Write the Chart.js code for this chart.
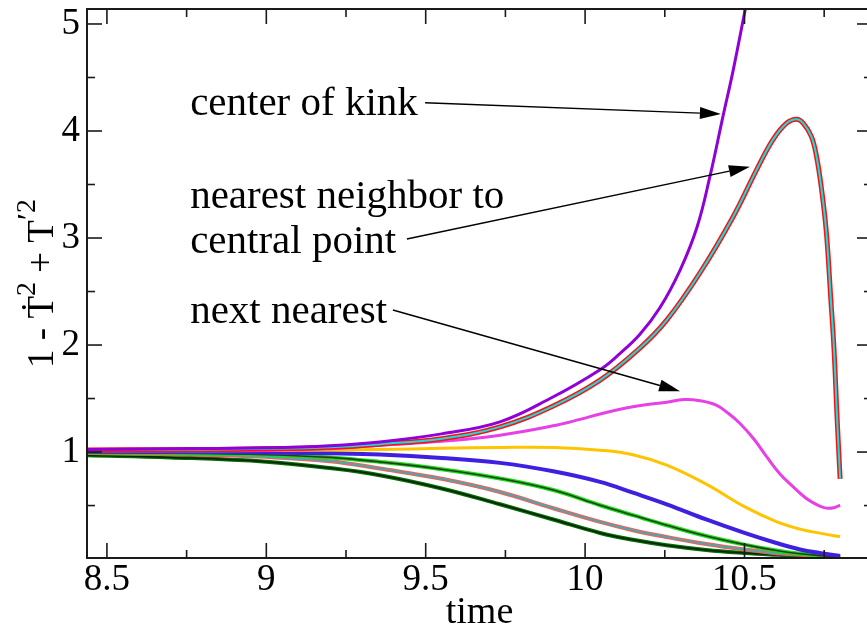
<!DOCTYPE html>
<html><head><meta charset="utf-8">
<script src="https://cdn.jsdelivr.net/npm/chart.js@4.4.0/dist/chart.umd.min.js"></script>
<style>
html,body{margin:0;padding:0;overflow:hidden;background:#fff;width:867px;height:628px}
#wrap{position:absolute;left:0;top:0;width:880px;height:640px}
</style></head><body><div id="wrap"><canvas id="c" width="880" height="640"></canvas></div>
<script>
// ---- axis ranges and ticks ----
const xRange = [8.4375, 10.9];
const yRange = [0.01, 5.14];
const majorXTicks = [8.5, 9, 9.5, 10, 10.5];
const minorXTicks = [8.75, 9.25, 9.75, 10.25, 10.75];
const majorYTicks = [1, 2, 3, 4, 5];
const minorYTicks = [0.5, 1.5, 2.5, 3.5, 4.5];

// ---- center of kink ----
const centerTime  = [8.44, 8.7, 9.0, 9.2, 9.356, 9.55, 9.733, 9.89, 10.047, 10.109, 10.172, 10.235, 10.298, 10.351, 10.392, 10.432, 10.464, 10.5, 10.53];
const centerValue = [1.025, 1.03, 1.04, 1.06, 1.095, 1.17, 1.282, 1.50, 1.77, 1.92, 2.10, 2.35, 2.70, 3.10, 3.58, 4.13, 4.56, 5.10, 5.55];

// ---- nearest neighbour (pair) ----
const nearTime  = [8.44, 8.7, 9.0, 9.2, 9.356, 9.55, 9.733, 9.9, 10.047, 10.172, 10.256, 10.36, 10.464, 10.538, 10.589, 10.632, 10.664, 10.684, 10.71, 10.726, 10.742, 10.757, 10.771, 10.781, 10.79, 10.8];
const nearValue = [1.02, 1.022, 1.03, 1.045, 1.074, 1.125, 1.235, 1.43, 1.672, 1.972, 2.233, 2.673, 3.197, 3.637, 3.917, 4.073, 4.11, 4.073, 3.948, 3.761, 3.45, 3.047, 2.42, 1.953, 1.35, 0.75];

// ---- next nearest ----
const nextTime  = [8.44, 8.7, 9.0, 9.2, 9.356, 9.55, 9.733, 9.9, 9.984, 10.047, 10.15, 10.256, 10.31, 10.36, 10.41, 10.45, 10.486, 10.53, 10.57, 10.61, 10.653, 10.69, 10.716, 10.74, 10.757, 10.78, 10.8];
const nextValue = [1.015, 1.015, 1.015, 1.03, 1.064, 1.10, 1.158, 1.245, 1.305, 1.355, 1.423, 1.466, 1.49, 1.48, 1.44, 1.36, 1.267, 1.12, 0.955, 0.80, 0.674, 0.575, 0.525, 0.49, 0.476, 0.48, 0.503];

// ---- outer points (shared time grid) ----
const outerTime      = [8.44, 8.7, 9.0, 9.2, 9.356, 9.55, 9.733, 9.9, 10.047, 10.15, 10.256, 10.38, 10.5, 10.6, 10.674, 10.74, 10.8];
const thirdValue     = [1.012, 1.012, 1.015, 1.02, 1.024, 1.035, 1.043, 1.043, 1.017, 0.975, 0.877, 0.70, 0.49, 0.35, 0.28, 0.24, 0.21];
const fourthValue    = [1.005, 1.0, 0.995, 0.988, 0.977, 0.945, 0.899, 0.82, 0.721, 0.62, 0.512, 0.37, 0.244, 0.15, 0.09, 0.055, 0.029];
const fifthValue     = [0.995, 0.99, 0.975, 0.95, 0.908, 0.84, 0.753, 0.645, 0.503, 0.41, 0.316, 0.215, 0.135, 0.08, 0.05, 0.032, 0.02];
const sixthValue     = [0.99, 0.98, 0.955, 0.915, 0.846, 0.75, 0.627, 0.475, 0.347, 0.27, 0.206, 0.14, 0.089, 0.055, 0.04, 0.028, 0.018];
const seventhValue   = [0.97, 0.95, 0.91, 0.85, 0.784, 0.66, 0.512, 0.37, 0.244, 0.18, 0.129, 0.085, 0.057, 0.04, 0.03, 0.022, 0.015];

// ---- annotation labels (data coordinates) ----
const noteTexts = ['center of kink', 'nearest neighbor to', 'central point', 'next nearest'];
const noteX = [8.761, 8.761, 8.761, 8.761];
const noteY = [4.151, 3.281, 2.860, 2.206];
const arrowFrom = [[9.498, 4.264], [9.441, 2.991], [9.397, 2.327]];
const arrowTo   = [[10.426, 4.160], [10.517, 3.665], [10.298, 1.569]];

const SERIF = "'Liberation Serif', 'Times New Roman', serif";
const pts = (t, v) => t.map((x, i) => ({x, y: v[i]}));

// bottom-to-top drawing order
const layers = [
  {d: pts(outerTime, seventhValue), c: '#006e00', w: 4},
  {d: pts(outerTime, seventhValue), c: '#0a200a', w: 1.5},
  {d: pts(outerTime, sixthValue),   c: '#f06060', w: 4},
  {d: pts(outerTime, sixthValue),   c: '#30b4b4', w: 1.5},
  {d: pts(outerTime, fifthValue),   c: '#10e010', w: 4},
  {d: pts(outerTime, fifthValue),   c: '#2a3a20', w: 1.6},
  {d: pts(outerTime, fourthValue),  c: '#4020e0', w: 4},
  {d: pts(outerTime, thirdValue),   c: '#ffc400', w: 3},
  {d: pts(nextTime, nextValue),     c: '#e640e6', w: 3},
  {d: pts(nearTime, nearValue),     c: '#ff1010', w: 5},
  {d: pts(nearTime, nearValue),     c: '#10e0e0', w: 2},
  {d: pts(centerTime, centerValue), c: '#9000d8', w: 3}
];
const N = layers.length;
const datasets = layers.map((l, i) => ({
  data: l.d, borderColor: l.c, borderWidth: l.w, pointRadius: 0,
  tension: 0.4, fill: false, order: N - i
}));

const decor = {
  id: 'decor',
  afterDatasetsDraw(chart) {
    const {ctx, chartArea: a, scales: {x, y}} = chart;
    ctx.save();
    ctx.strokeStyle = '#1a1a1a';
    ctx.lineWidth = 2;
    ctx.strokeRect(a.left, a.top, a.right - a.left, a.bottom - a.top);
    const seg = (x0, y0, x1, y1) => { ctx.beginPath(); ctx.moveTo(x0, y0); ctx.lineTo(x1, y1); ctx.stroke(); };
    ctx.lineWidth = 1.6;
    const xt = (vals, len) => vals.forEach(v => { const p = x.getPixelForValue(v); seg(p, a.bottom, p, a.bottom - len); seg(p, a.top, p, a.top + len); });
    const yt = (vals, len) => vals.forEach(v => { const p = y.getPixelForValue(v); seg(a.left, p, a.left + len, p); seg(a.right, p, a.right - len, p); });
    xt(majorXTicks, 15); xt(minorXTicks, 8); yt(majorYTicks, 15); yt(minorYTicks, 8);

    // annotation text
    ctx.fillStyle = '#000';
    ctx.font = '41px ' + SERIF;
    ctx.textAlign = 'left';
    ctx.textBaseline = 'alphabetic';
    noteTexts.forEach((t, i) => ctx.fillText(t, x.getPixelForValue(noteX[i]), y.getPixelForValue(noteY[i])));

    // arrows
    ctx.strokeStyle = '#000';
    ctx.lineWidth = 1.4;
    arrowFrom.forEach((f, i) => {
      const x0 = x.getPixelForValue(f[0]), y0 = y.getPixelForValue(f[1]);
      const x1 = x.getPixelForValue(arrowTo[i][0]), y1 = y.getPixelForValue(arrowTo[i][1]);
      const ang = Math.atan2(y1 - y0, x1 - x0);
      const L = 21, W = 6;
      const bx = x1 - L * Math.cos(ang), by = y1 - L * Math.sin(ang);
      seg(x0, y0, bx, by);
      ctx.beginPath();
      ctx.moveTo(x1, y1);
      ctx.lineTo(bx + W * Math.sin(ang), by - W * Math.cos(ang));
      ctx.lineTo(bx - W * Math.sin(ang), by + W * Math.cos(ang));
      ctx.closePath();
      ctx.fill();
    });

    // y axis title with superscripts
    const parts = [
      {t: '1 - ', s: 37, r: 0},
      {t: '\u1E6A', s: 37, r: 0},
      {t: '2', s: 28, r: 18},
      {t: ' + ', s: 37, r: 0},
      {t: 'T', s: 37, r: 0},
      {t: '\u2032', s: 32, r: 14},
      {t: '2', s: 28, r: 18}
    ];
    let total = 0;
    parts.forEach(p => { ctx.font = p.s + 'px ' + SERIF; p.w = ctx.measureText(p.t).width; total += p.w; });
    ctx.translate(53, (a.top + a.bottom) / 2);
    ctx.rotate(-Math.PI / 2);
    let cx = -total / 2;
    parts.forEach(p => { ctx.font = p.s + 'px ' + SERIF; ctx.fillText(p.t, cx, -p.r); cx += p.w; });
    ctx.restore();
  }
};

new Chart(document.getElementById('c'), {
  type: 'line',
  data: {datasets},
  options: {
    responsive: false, animation: false, events: [],
    layout: {padding: {top: 9, right: 8, left: 0, bottom: 0}},
    plugins: {legend: {display: false}, tooltip: {enabled: false}},
    scales: {
      x: {
        type: 'linear', min: xRange[0], max: xRange[1],
        afterBuildTicks: s => { s.ticks = majorXTicks.map(v => ({value: v})); },
        afterFit: s => { s.height = 82; s.paddingLeft = 0; s.paddingRight = 0; },
        grid: {display: false, drawTicks: false}, border: {display: false},
        ticks: {color: '#000', font: {family: SERIF, size: 37}, padding: 0, maxRotation: 0, autoSkip: false, callback: v => String(v)},
        title: {display: true, text: 'time', color: '#000', font: {family: SERIF, size: 38}, padding: {top: 0, bottom: 4}}
      },
      y: {
        type: 'linear', min: yRange[0], max: yRange[1],
        afterBuildTicks: s => { s.ticks = majorYTicks.map(v => ({value: v})); },
        afterFit: s => { s.width = 87; s.paddingTop = 0; s.paddingBottom = 0; },
        grid: {display: false, drawTicks: false}, border: {display: false},
        ticks: {color: '#000', font: {family: SERIF, size: 37}, padding: 7, autoSkip: false, callback: v => String(v)}
      }
    }
  },
  plugins: [decor]
});
</script></body></html>
